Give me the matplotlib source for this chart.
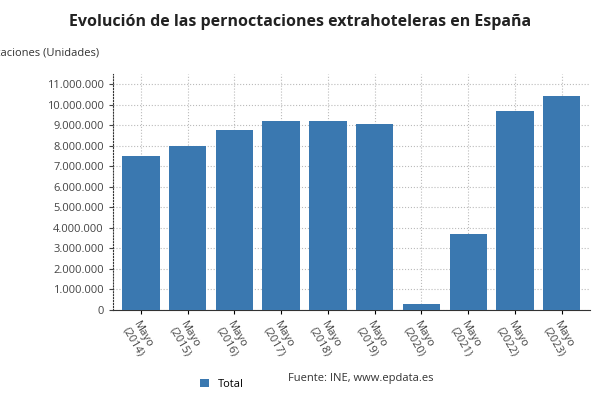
import matplotlib
matplotlib.use("Agg")
import matplotlib.pyplot as plt
from matplotlib.ticker import FuncFormatter

years = ["2014","2015","2016","2017","2018","2019","2020","2021","2022","2023"]
labels = [f"Mayo\n({y})" for y in years]
values = [7490000,7980000,8760000,9200000,9200000,9050000,290000,3700000,9680000,10410000]

plt.rcParams['font.family'] = ['Open Sans','DejaVu Sans']
fig = plt.figure(figsize=(6,4), dpi=100)
ax = fig.add_axes([0.188, 0.225, 0.795, 0.59])
x = range(len(values))
ax.bar(x, values, width=0.8, color="#3a78b0", label="Total", zorder=3)
ax.set_xlim(-0.6, 9.6)
ax.set_ylim(0, 11500000)
ax.set_yticks(range(0, 11000001, 1000000))
ax.yaxis.set_major_formatter(FuncFormatter(lambda v, p: f"{int(v):,}".replace(",", ".")))
ax.set_xticks(list(x))
ax.set_xticklabels(labels, rotation=-60, ha="left", rotation_mode="anchor", fontsize=8, color="#444")
ax.tick_params(axis='y', labelsize=8, colors="#444", length=3)
ax.tick_params(axis='x', length=3)
ax.grid(True, linestyle=":", color="#bbbbbb", zorder=0)
for s in ["top", "right"]:
    ax.spines[s].set_visible(False)
ax.spines["left"].set_linestyle(":")
ax.spines["left"].set_color("#333")
ax.spines["bottom"].set_color("#333")
fig.text(0.5, 0.935, "Evolución de las pernoctaciones extrahoteleras en España", ha="center", fontsize=11.5, fontweight="bold", color="#222")
fig.text(0.165, 0.862, "Pernoctaciones (Unidades)", ha="right", fontsize=8, color="#333")
fig.legend(loc="lower center", bbox_to_anchor=(0.37, 0.0), frameon=False, fontsize=8, handlelength=0.8, handleheight=0.8)
fig.text(0.48, 0.047, "Fuente: INE, www.epdata.es", fontsize=8, color="#333")
fig.savefig("out.png", dpi=100)
